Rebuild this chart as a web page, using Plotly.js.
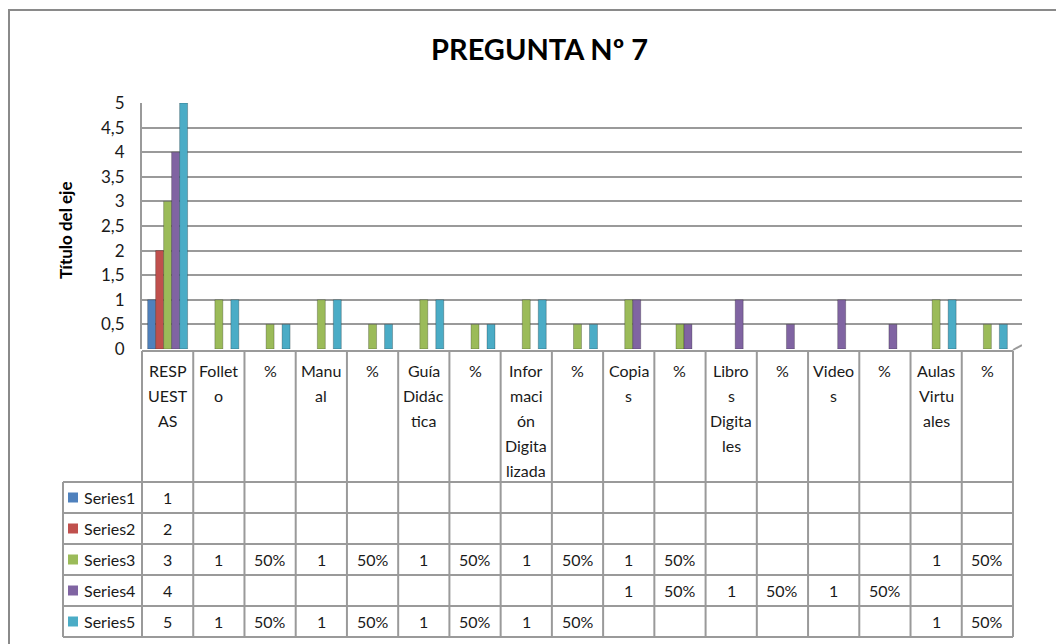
<!DOCTYPE html>
<html>
<head>
<meta charset="utf-8">
<script src="https://cdn.plot.ly/plotly-3.0.1.min.js"></script>
<style>
  body { margin: 0; background: #fff; }
  #chart { width: 1056px; height: 644px; }
</style>
</head>
<body>
<div id="chart"></div>
<script>
// categorias y etiquetas tal como salen partidas en la tabla de Excel
const categories = ["RESPUESTAS", "Folleto", "%", "Manual", "%", "Guía Didáctica", "%",
  "Información Digitalizada", "%", "Copias", "%", "Libros Digitales", "%", "Videos", "%",
  "Aulas Virtuales", "%"];
const headerLines = [["RESP", "UEST", "AS"], ["Follet", "o"], ["%"], ["Manu", "al"], ["%"],
  ["Guía", "Didác", "tica"], ["%"], ["Infor", "maci", "ón", "Digita", "lizada"], ["%"],
  ["Copia", "s"], ["%"], ["Libro", "s", "Digita", "les"], ["%"], ["Video", "s"], ["%"],
  ["Aulas", "Virtu", "ales"], ["%"]];

const seriesNames = ["Series1", "Series2", "Series3", "Series4", "Series5"];
const seriesColors = ["#4F81BD", "#C0504D", "#9BBB59", "#8064A2", "#4BACC6"];

const series1 = [1, null, null, null, null, null, null, null, null, null, null, null, null, null, null, null, null];
const series2 = [2, null, null, null, null, null, null, null, null, null, null, null, null, null, null, null, null];
const series3 = [3, 1, 0.5, 1, 0.5, 1, 0.5, 1, 0.5, 1, 0.5, null, null, null, null, 1, 0.5];
const series4 = [4, null, null, null, null, null, null, null, null, 1, 0.5, 1, 0.5, 1, 0.5, null, null];
const series5 = [5, 1, 0.5, 1, 0.5, 1, 0.5, 1, 0.5, null, null, null, null, null, null, 1, 0.5];
const allSeries = [series1, series2, series3, series4, series5];

// area de trazado en pixeles (la pared del fondo sobresale 9px a la derecha de la tabla)
const W = 1056, H = 644;
const tableRight = 1013, depth = 9;
const PLOT = { l: 142, r: tableRight + depth, t: 103, b: 349 };
const py = p => (PLOT.b - p) / (PLOT.b - PLOT.t);
const px = p => (p - PLOT.l) / (PLOT.r - PLOT.l);
const catW = (tableRight - PLOT.l) / categories.length;

const xs = categories.map((c, i) => i);
const lastX = categories.length - 0.5;
const lineColor = "#9a9a9a";
const textFont = { family: "Lato, 'DejaVu Sans', sans-serif", size: 16, color: "#1a1a1a" };

let traces = allSeries.map((vals, k) => ({
  type: "bar",
  name: seriesNames[k],
  x: xs,
  y: vals,
  marker: { color: seriesColors[k], line: { color: "rgba(0,0,0,0.3)", width: 0.8 } },
  hoverinfo: "skip"
}));

function cellText(v, i) {
  if (v === null) return "";
  if (categories[i] === "%") return Math.round(v * 100) + "%";
  return String(v);
}

// filas de la tabla
const headerTop = 351, headerBottom = 482, rowH = 31;
const legendLeft = 63;
const tableBottom = headerBottom + seriesNames.length * rowH;
let shapes = [];
let annotations = [];
const ln = { color: lineColor, width: 2 };

// marco exterior del grafico
shapes.push({
  type: "rect", xref: "paper", yref: "paper",
  x0: px(9), x1: px(W + 10), y0: py(H + 10), y1: py(10),
  line: { color: "#8a8a8a", width: 2 }
});

// lineas horizontales de la tabla
shapes.push({ type: "line", xref: "x", yref: "paper", x0: -0.5, x1: lastX,
  y0: py(headerTop), y1: py(headerTop), line: ln });
for (let r = 0; r <= seriesNames.length; r++) {
  let yy = py(headerBottom + r * rowH);
  shapes.push({ type: "line", xref: "paper", yref: "paper", x0: px(legendLeft), x1: 0,
    y0: yy, y1: yy, line: ln });
  shapes.push({ type: "line", xref: "x", yref: "paper", x0: -0.5, x1: lastX,
    y0: yy, y1: yy, line: ln });
}

// lineas verticales de la tabla
for (let k = 1; k <= categories.length; k++) {
  shapes.push({ type: "line", xref: "x", yref: "paper", x0: k - 0.5, x1: k - 0.5,
    y0: py(headerTop), y1: py(tableBottom), line: ln });
}
shapes.push({ type: "line", xref: "paper", yref: "paper", x0: 0, x1: 0,
  y0: py(headerTop), y1: py(tableBottom), line: ln });
shapes.push({ type: "line", xref: "paper", yref: "paper", x0: px(legendLeft), x1: px(legendLeft),
  y0: py(headerBottom), y1: py(tableBottom), line: ln });

// suelo 3D: diagonal desde el borde de la tabla hasta la pared del fondo
shapes.push({ type: "line", xref: "x", yref: "paper", x0: lastX, x1: lastX + depth / catW,
  y0: py(PLOT.b + 1), y1: py(PLOT.b - 4), line: ln });

// encabezados de la tabla
headerLines.forEach((lines, i) => {
  lines.forEach((t, j) => {
    annotations.push({ xref: "x", yref: "paper", x: i, y: py(370 + j * 25),
      text: t, showarrow: false, font: textFont, xanchor: "center", yanchor: "middle" });
  });
});

// leyenda + valores
seriesNames.forEach((name, r) => {
  let cy = headerBottom + r * rowH + rowH / 2;
  shapes.push({ type: "rect", xref: "paper", yref: "paper",
    x0: px(68), x1: px(78), y0: py(cy + 5), y1: py(cy - 5),
    fillcolor: seriesColors[r], line: { width: 0 } });
  annotations.push({ xref: "paper", yref: "paper", x: px(82), y: py(cy), text: name,
    showarrow: false, font: textFont, xanchor: "left", yanchor: "middle" });
  allSeries[r].forEach((v, i) => {
    let t = cellText(v, i);
    if (!t) return;
    annotations.push({ xref: "x", yref: "paper", x: i, y: py(cy), text: t,
      showarrow: false, font: textFont, xanchor: "center", yanchor: "middle" });
  });
});

// titulo del eje vertical
annotations.push({ xref: "paper", yref: "paper", x: px(65), y: py(230), text: "<b>Título del eje</b>",
  textangle: -90, showarrow: false, font: { family: "Lato, sans-serif", size: 17, color: "#000" },
  xanchor: "center", yanchor: "middle" });

let layout = {
  width: W,
  height: H,
  margin: { l: PLOT.l, r: W - PLOT.r, t: PLOT.t, b: H - PLOT.b, pad: 0 },
  paper_bgcolor: "#fff",
  plot_bgcolor: "#fff",
  separators: ",.",
  title: {
    text: "<b>PREGUNTA Nº 7</b>",
    font: { family: "Lato, sans-serif", size: 29, color: "#000" },
    x: 0.511, xanchor: "center", y: 0.922, yanchor: "middle"
  },
  barmode: "group",
  bargap: 0.22,
  bargroupgap: 0,
  showlegend: false,
  xaxis: {
    range: [-0.5, lastX + depth / catW],
    showticklabels: false,
    showgrid: false,
    zeroline: false,
    ticks: "",
    showline: false,
    fixedrange: true
  },
  yaxis: {
    range: [0, 5],
    dtick: 0.5,
    tick0: 0,
    showgrid: true,
    gridcolor: lineColor,
    gridwidth: 2,
    zeroline: false,
    showline: true,
    linecolor: lineColor,
    linewidth: 2,
    ticks: "",
    ticklabelstandoff: 12,
    tickfont: { family: "Lato, sans-serif", size: 17, color: "#1a1a1a" },
    fixedrange: true
  },
  shapes: shapes,
  annotations: annotations
};

Plotly.newPlot("chart", traces, layout, { displayModeBar: false, staticPlot: true });
</script>
</body>
</html>
